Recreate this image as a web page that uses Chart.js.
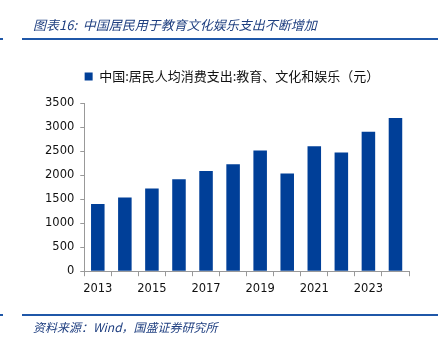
<!DOCTYPE html>
<html>
<head>
<meta charset="utf-8">
<script src="https://cdn.jsdelivr.net/npm/chart.js@4/dist/chart.umd.min.js"></script>
<style>
  html, body { margin: 0; padding: 0; background: #fff; }
  #wrap { position: relative; width: 447px; height: 342px; overflow: hidden; }
  #c { position: absolute; left: 0; top: 0; }
  .title { position: absolute; left: 33px; top: 15px; font: italic 13px "Noto Sans CJK SC", sans-serif; color: #1f3f80; white-space: nowrap; }
  .src { position: absolute; left: 33px; top: 318px; font: italic 12px "Noto Sans CJK SC", sans-serif; color: #1f3f80; white-space: nowrap; }
  .rule { position: absolute; height: 2px; background: #1f57a8; }
</style>
</head>
<body>
<div id="wrap">
  <canvas id="c" width="447" height="342"></canvas>
  <div class="title">图表16:&nbsp; 中国居民用于教育文化娱乐支出不断增加</div>
  <div class="rule" style="left:0;width:3px;top:38px"></div>
  <div class="rule" style="left:22px;width:416px;top:38px"></div>
  <div class="rule" style="left:0;width:3px;top:314px"></div>
  <div class="rule" style="left:22px;width:416px;top:314px"></div>
  <div class="src">资料来源：Wind，国盛证券研究所</div>
</div>
<script>
// Per-capita consumption spending on education, culture and entertainment (yuan)
const years = ['2013','2014','2015','2016','2017','2018','2019','2020','2021','2022','2023','2024'];
const spending = [1398, 1536, 1723, 1915, 2086, 2226, 2513, 2032, 2599, 2469, 2904, 3189];
const seriesName = '中国:居民人均消费支出:教育、文化和娱乐（元）';
const yTicks = [0, 500, 1000, 1500, 2000, 2500, 3000, 3500];

const barColor = '#003f98';
const tickFont = { family: 'DejaVu Sans', size: 11.5 };

// extra room under the legend, and nudge it a bit to the right
const legendTweak = {
  id: 'legendTweak',
  beforeInit(chart) {
    const fit = chart.legend.fit;
    chart.legend.fit = function () {
      fit.call(this);
      this.height += 10;
    };
  },
  afterLayout(chart) {
    chart.legend.left += 8;
    chart.legend.right += 8;
  }
};

new Chart(document.getElementById('c'), {
  type: 'bar',
  data: {
    labels: years,
    datasets: [{
      label: seriesName,
      data: spending,
      backgroundColor: barColor,
      borderWidth: 0,
      categoryPercentage: 1,
      barPercentage: 0.5
    }]
  },
  plugins: [legendTweak],
  options: {
    responsive: false,
    animation: false,
    layout: { padding: { top: 58, left: 39, right: 38, bottom: 40 } },
    plugins: {
      legend: {
        display: true,
        position: 'top',
        labels: {
          boxWidth: 8,
          boxHeight: 8,
          padding: 12,
          color: '#111',
          font: { family: 'Noto Sans CJK SC', size: 13 }
        }
      },
      tooltip: { enabled: false }
    },
    scales: {
      x: {
        offset: true,
        grid: {
          offset: true,
          drawOnChartArea: false,
          drawTicks: true,
          tickLength: 5,
          color: '#999'
        },
        border: { display: true, color: '#999' },
        ticks: {
          autoSkip: false,
          maxRotation: 0,
          color: '#111',
          font: tickFont,
          padding: 6,
          callback: (v, i) => (i % 2 === 0 ? years[i] : '')
        }
      },
      y: {
        min: 0,
        max: 3500,
        afterBuildTicks: (axis) => { axis.ticks = yTicks.map(v => ({ value: v })); },
        grid: {
          drawOnChartArea: false,
          drawTicks: true,
          tickLength: 4,
          color: '#999'
        },
        border: { display: true, color: '#999' },
        ticks: {
          color: '#111',
          font: tickFont,
          padding: 6,
          callback: (v) => String(v)
        }
      }
    }
  }
});
</script>
</body>
</html>
